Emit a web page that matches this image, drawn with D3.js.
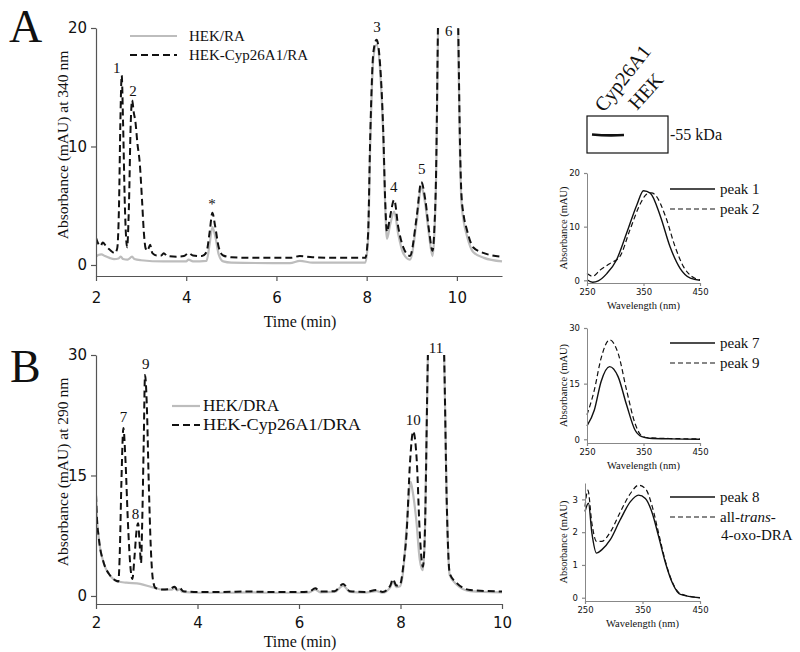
<!DOCTYPE html>
<html><head><meta charset="utf-8">
<script src="https://cdn.jsdelivr.net/npm/d3@7"></script>
<style>body{margin:0;background:#fff}text{fill:#111}</style>
</head><body>
<svg id="c" width="800" height="652" xmlns="http://www.w3.org/2000/svg"></svg>
<script>
// ---------- DATA ----------
// Panel A chromatogram (340 nm): [time (min), absorbance (mAU)]
const raHEK = [[2.00,0.7],[2.05,0.85],[2.12,0.9],[2.2,0.75],[2.3,0.6],[2.4,0.5],[2.5,0.55],[2.55,0.7],[2.6,0.5],[2.7,0.45],[2.8,0.7],[2.85,0.5],[3.0,0.4],[3.5,0.3],[4.0,0.3],[4.05,0.45],[4.15,0.3],[4.45,0.35],[4.52,1.8],[4.58,3.2],[4.65,2.3],[4.72,0.9],[4.82,0.3],[5.0,0.2],[6.3,0.15],[6.52,0.35],[6.8,0.2],[7.97,0.2],[8.03,2.0],[8.08,10.3],[8.15,17.5],[8.22,18.6],[8.30,16.3],[8.37,10.5],[8.41,5.0],[8.45,2.2],[8.52,3.4],[8.61,4.5],[8.70,2.6],[8.81,1.0],[8.96,0.45],[9.11,3.7],[9.21,6.6],[9.30,5.1],[9.39,2.3],[9.46,0.75],[9.5,2.5],[9.54,7.5],[9.58,19],[9.62,29],[9.70,36],[9.82,40],[9.95,36],[10.03,19],[10.07,9],[10.1,5.4],[10.15,3.7],[10.22,2.5],[10.36,1.1],[10.6,0.6],[11.0,0.3]];
const raCyp = [[2.00,2.3],[2.05,1.8],[2.10,1.6],[2.15,1.9],[2.22,1.6],[2.30,1.3],[2.42,1.0],[2.47,1.4],[2.51,5],[2.54,12],[2.57,16.0],[2.60,12],[2.64,5],[2.69,1.5],[2.73,5],[2.77,12],[2.80,13.9],[2.84,12.8],[2.87,12.2],[2.92,10.2],[2.97,8.6],[3.02,5.5],[3.06,2.8],[3.10,1.4],[3.14,1.2],[3.20,1.7],[3.25,1.0],[3.35,0.8],[3.45,0.8],[3.50,1.0],[3.58,0.75],[3.80,0.7],[3.95,0.75],[4.05,1.0],[4.15,0.8],[4.35,0.75],[4.45,1.1],[4.52,2.8],[4.58,4.4],[4.64,3.3],[4.72,1.5],[4.82,0.8],[5.0,0.65],[5.5,0.6],[6.3,0.6],[6.52,0.75],[6.8,0.65],[7.5,0.6],[7.97,0.6],[8.03,2.5],[8.08,11],[8.15,18],[8.22,19.0],[8.30,16.8],[8.37,11],[8.41,5.5],[8.45,2.8],[8.52,4.1],[8.61,5.5],[8.70,3.2],[8.81,1.5],[8.96,0.76],[9.11,4.1],[9.21,7.0],[9.30,5.5],[9.39,2.7],[9.46,1.2],[9.5,3],[9.54,8],[9.58,20],[9.62,30],[9.70,37],[9.82,41],[9.95,37],[10.03,20],[10.07,10],[10.1,6],[10.15,4.2],[10.22,3],[10.36,1.5],[10.6,1.0],[11.0,0.7]];
// Panel B chromatogram (290 nm)
const draHEK = [[2.00,12.6],[2.02,9.5],[2.05,7.5],[2.08,6.0],[2.13,4.6],[2.18,3.6],[2.25,2.8],[2.31,2.3],[2.38,1.95],[2.44,1.8],[2.6,1.65],[2.87,1.5],[3.1,1.1],[3.32,0.8],[3.5,0.8],[3.55,1.0],[3.6,0.7],[3.65,0.85],[3.7,0.5],[4.0,0.4],[4.5,0.4],[5.0,0.45],[5.5,0.4],[6.0,0.4],[6.2,0.45],[6.32,0.8],[6.42,0.45],[6.7,0.5],[6.87,1.3],[7.0,0.5],[7.3,0.4],[7.53,0.6],[7.65,0.4],[7.8,1.1],[7.85,1.8],[7.92,1.1],[7.99,1.2],[8.06,3.5],[8.12,8.5],[8.2,14.2],[8.24,13],[8.31,9.5],[8.38,4.5],[8.44,3.2],[8.48,7.5],[8.54,30],[8.6,40],[8.8,40],[8.86,30],[8.91,12],[8.97,2.6],[9.11,1.4],[9.37,0.6],[10.0,0.45]];
const draCyp = [[2.00,12.6],[2.02,9.5],[2.05,7.5],[2.08,6.0],[2.13,4.6],[2.18,3.6],[2.25,2.8],[2.31,2.3],[2.38,1.95],[2.44,1.8],[2.47,5.7],[2.50,14],[2.54,20.9],[2.58,17],[2.63,9],[2.68,3.5],[2.716,2.1],[2.76,5],[2.80,8.2],[2.83,9.05],[2.86,6.5],[2.887,4.1],[2.91,9],[2.94,19],[2.966,27.5],[3.0,24],[3.04,14],[3.08,6],[3.12,2.1],[3.17,1.0],[3.22,0.9],[3.3,0.8],[3.45,0.85],[3.55,1.15],[3.6,0.8],[3.65,1.0],[3.72,0.6],[4.0,0.5],[4.5,0.5],[5.0,0.55],[5.5,0.5],[6.0,0.5],[6.2,0.55],[6.32,0.95],[6.42,0.55],[6.7,0.6],[6.87,1.5],[7.0,0.6],[7.3,0.5],[7.53,0.75],[7.65,0.5],[7.8,1.3],[7.85,2.1],[7.92,1.3],[7.99,1.4],[8.06,4],[8.12,7.8],[8.19,16.9],[8.25,20.5],[8.32,16.9],[8.38,7.8],[8.44,3.65],[8.48,7.8],[8.54,30],[8.6,40],[8.8,40],[8.86,30],[8.91,12],[8.97,2.8],[9.11,1.6],[9.37,0.75],[10.0,0.55]];
// Peak labels
const peaksA = [["1",2.46,16.2],["2",2.82,14.3],["*",4.57,4.7],["3",8.23,19.7],["4",8.6,6.2],["5",9.22,7.7],["6",9.82,19.3]];
const peaksB = [["7",2.54,21.7],["8",2.78,9.6],["9",2.98,28.2],["10",8.25,21.3],["11",8.7,30.3]];
// UV spectra: [wavelength (nm), absorbance (mAU)]
const specPeak1 = [[250,0.1],[260,-0.35],[270,-0.1],[285,1.25],[302,3.75],[320,8.75],[338,14],[350,16.7],[362,16.25],[380,11.9],[397,6.25],[415,2.2],[433,0.4],[450,0]];
const specPeak2 = [[250,1.25],[260,0.75],[273,1.9],[290,3.1],[308,4.4],[326,9.4],[345,14.4],[356,16.1],[364,16.3],[371,15.9],[389,11.9],[406,6.25],[421,2.5],[435,0.75],[450,0.1]];
const specPeak7 = [[250,3.6],[263,7.9],[275,15.6],[290,19.6],[305,16.9],[320,9.3],[335,2.5],[347,0.7],[360,0.3],[400,0.1],[450,0]];
const specPeak9 = [[250,6.6],[263,13.3],[275,21.9],[290,26.8],[305,23.2],[320,13.3],[335,4.3],[347,0.9],[360,0.4],[400,0.2],[450,0.1]];
const specPeak8 = [[250,2.63],[256,2.88],[262,1.97],[270,1.36],[279,1.46],[294,1.77],[311,2.37],[329,2.93],[343,3.13],[355,3.03],[367,2.58],[378,1.87],[390,1.06],[402,0.45],[416,0.1],[450,0]];
const specOxoDRA = [[250,2.78],[255,3.28],[262,2.27],[270,1.72],[279,1.72],[294,2.0],[311,2.6],[329,3.18],[343,3.43],[355,3.33],[367,2.78],[378,1.97],[390,1.1],[402,0.47],[416,0.12],[450,0]];
// Tick values
const ticksTime = [2,4,6,8,10];
const ticksA_y = [0,10,20];
const ticksB_y = [0,15,30];
const ticksWL = [250,350,450];
const ticksS1 = [0,10,20], ticksS2 = [0,15,30], ticksS3 = [0,1,2,3];

// ---------- DRAWING ----------
const svg = d3.select("#c");
const SERIF = "'Liberation Serif','Times New Roman',serif";
const SANS = "'DejaVu Sans','Liberation Sans',sans-serif";
const GRAY = "#bdbdbd";

function styleAxis(g, fs, col){
  g.select(".domain").attr("stroke", col).attr("stroke-width",1.2);
  g.selectAll(".tick line").attr("stroke", col).attr("stroke-width",1.2);
  g.selectAll(".tick text").attr("font-family", SANS).attr("font-size", fs).attr("fill","#222");
}

function chrom(cfg){
  const x = d3.scaleLinear().domain(cfg.xd).range(cfg.xr);
  const y = d3.scaleLinear().domain(cfg.yd).range(cfg.yr);
  const id = "clip"+cfg.name;
  svg.append("clipPath").attr("id",id).append("rect")
    .attr("x",cfg.xr[0]).attr("y",cfg.yr[1]).attr("width",cfg.xr[1]-cfg.xr[0]+2).attr("height",cfg.yr[0]-cfg.yr[1]);
  const line = d3.line().x(d=>x(d[0])).y(d=>y(d[1])).curve(d3.curveMonotoneX);
  const gp = svg.append("g").attr("clip-path",`url(#${id})`);
  gp.append("path").datum(cfg.gray).attr("d",line).attr("fill","none").attr("stroke",GRAY).attr("stroke-width",2.2);
  gp.append("path").datum(cfg.dash).attr("d",line).attr("fill","none").attr("stroke","#111").attr("stroke-width",2).attr("stroke-dasharray","7,4");
  const gx = svg.append("g").attr("transform",`translate(0,${cfg.yr[0]})`)
    .call(d3.axisBottom(x).tickValues(ticksTime).tickSize(5).tickSizeOuter(0).tickPadding(cfg.xpad).tickFormat(d3.format("d")));
  styleAxis(gx, 15, "#555");
  const gy = svg.append("g").attr("transform",`translate(${cfg.xr[0]},0)`)
    .call(d3.axisLeft(y).tickValues(cfg.yt).tickSize(5).tickSizeOuter(0).tickPadding(4).tickFormat(d3.format("d")));
  styleAxis(gy, 15, "#555");
  // axis titles
  svg.append("text").attr("x",300).attr("y",cfg.xlabY).attr("text-anchor","middle")
    .attr("font-family",SERIF).attr("font-size",16).text("Time (min)");
  svg.append("text").attr("transform",`translate(68,${cfg.ylabY}) rotate(-90)`).attr("text-anchor","middle")
    .attr("font-family",SERIF).attr("font-size",15.5).text(cfg.ylab);
  // peak labels
  svg.append("g").selectAll("text").data(cfg.peaks).join("text")
    .attr("x",d=>x(d[1])).attr("y",d=>y(d[2])).attr("text-anchor","middle")
    .attr("font-family",SERIF).attr("font-size",15).text(d=>d[0]);
  // legend
  const L = cfg.legend;
  svg.append("line").attr("x1",L.x1).attr("x2",L.x2).attr("y1",L.y1).attr("y2",L.y1).attr("stroke",GRAY).attr("stroke-width",2.2);
  svg.append("line").attr("x1",L.x1).attr("x2",L.x2).attr("y1",L.y2).attr("y2",L.y2).attr("stroke","#111").attr("stroke-width",2).attr("stroke-dasharray","7,4");
  const t1 = svg.append("text").attr("x",L.tx).attr("y",L.y1+5).attr("font-family",SERIF).attr("font-size",L.fs).text(L.t1);
  const t2 = svg.append("text").attr("x",L.tx).attr("y",L.y2+5).attr("font-family",SERIF).attr("font-size",L.fs).text(L.t2);
  if (L.w1) { t1.attr("textLength",L.w1).attr("lengthAdjust","spacingAndGlyphs");
              t2.attr("textLength",L.w2).attr("lengthAdjust","spacingAndGlyphs"); }
  // panel letter
  svg.append("text").attr("x",cfg.letter[1]).attr("y",cfg.letter[2]).attr("font-family",SERIF).attr("font-size",46).text(cfg.letter[0]);
}

chrom({name:"A", xd:[2,11], xr:[96,502], yd:[-0.93,20], yr:[276,28], yt:ticksA_y, xpad:11,
  gray:raHEK, dash:raCyp, peaks:peaksA, ylab:"Absorbance (mAU) at 340 nm", ylabY:145, xlabY:327,
  legend:{x1:130,x2:177,y1:36,y2:55,tx:189,fs:15,t1:"HEK/RA",t2:"HEK-Cyp26A1/RA"},
  letter:["A",9,42]});
chrom({name:"B", xd:[2,10], xr:[96,502], yd:[-1,30], yr:[604,355], yt:ticksB_y, xpad:8,
  gray:draHEK, dash:draCyp, peaks:peaksB, ylab:"Absorbance (mAU) at 290 nm", ylabY:472, xlabY:647,
  legend:{x1:172,x2:200,y1:406,y2:425,tx:203,fs:16,t1:"HEK/DRA",t2:"HEK-Cyp26A1/DRA",w1:76,w2:158},
  letter:["B",10,382]});

function spectrum(cfg){
  const x = d3.scaleLinear().domain([250,450]).range(cfg.xr);
  const y = d3.scaleLinear().domain(cfg.yd).range(cfg.yr);
  const line = d3.line().x(d=>x(d[0])).y(d=>y(d[1])).curve(d3.curveMonotoneX);
  svg.append("path").datum(cfg.s1).attr("d",line).attr("fill","none").attr("stroke","#111").attr("stroke-width",1.4);
  svg.append("path").datum(cfg.s2).attr("d",line).attr("fill","none").attr("stroke","#111").attr("stroke-width",1.2).attr("stroke-dasharray","5,3");
  const gx = svg.append("g").attr("transform",`translate(0,${cfg.yr[0]})`)
    .call(d3.axisBottom(x).tickValues(ticksWL).tickSize(3).tickSizeOuter(0).tickPadding(3).tickFormat(d3.format("d")));
  styleAxis(gx, 8.5, "#888");
  const gy = svg.append("g").attr("transform",`translate(${cfg.xr[0]},0)`)
    .call(d3.axisLeft(y).tickValues(cfg.yt).tickSize(3).tickSizeOuter(0).tickPadding(4).tickFormat(d3.format("d")));
  styleAxis(gy, 8.5, "#888");
  gx.select(".domain").attr("stroke-width",1); gy.select(".domain").attr("stroke-width",1);
  svg.append("text").attr("x",(cfg.xr[0]+cfg.xr[1])/2).attr("y",cfg.yr[0]+26).attr("text-anchor","middle")
    .attr("font-family",SERIF).attr("font-size",10.5).text("Wavelength (nm)");
  svg.append("text").attr("transform",`translate(567,${(cfg.yr[0]+cfg.yr[1])/2}) rotate(-90)`).attr("text-anchor","middle")
    .attr("font-family",SERIF).attr("font-size",10.5).text("Absorbance (mAU)");
  // legend
  const ly = cfg.ly;
  svg.append("line").attr("x1",670).attr("x2",715).attr("y1",ly).attr("y2",ly).attr("stroke","#111").attr("stroke-width",1.3);
  svg.append("line").attr("x1",670).attr("x2",715).attr("y1",ly+20).attr("y2",ly+20).attr("stroke","#111").attr("stroke-width",1.2).attr("stroke-dasharray","5,3");
  svg.append("text").attr("x",720).attr("y",ly+5).attr("font-family",SERIF).attr("font-size",15).text(cfg.t1);
  const t2 = svg.append("text").attr("x",720).attr("y",ly+25).attr("font-family",SERIF).attr("font-size",15);
  cfg.t2(t2);
}

spectrum({xr:[587,700], yd:[-0.5,20], yr:[283,173], yt:ticksS1, s1:specPeak1, s2:specPeak2, ly:189,
  t1:"peak 1", t2:t=>t.text("peak 2")});
spectrum({xr:[587,700], yd:[-1,30], yr:[443,328], yt:ticksS2, s1:specPeak7, s2:specPeak9, ly:343,
  t1:"peak 7", t2:t=>t.text("peak 9")});
spectrum({xr:[585,700], yd:[-0.1,3.5], yr:[601,483], yt:ticksS3, s1:specPeak8, s2:specOxoDRA, ly:497,
  t1:"peak 8", t2:t=>{t.append("tspan").text("all-"); t.append("tspan").attr("font-style","italic").text("trans"); t.append("tspan").text("-");}});
svg.append("text").attr("x",721).attr("y",540).attr("font-family",SERIF).attr("font-size",15).text("4-oxo-DRA");

// Western blot inset
svg.append("rect").attr("x",587).attr("y",116).attr("width",81).attr("height",37).attr("fill","none").attr("stroke","#111").attr("stroke-width",1.2);
svg.append("path").attr("d","M592,134.5 Q608,136 624,135").attr("fill","none").attr("stroke","#111").attr("stroke-width",2.6);
svg.append("text").attr("x",670).attr("y",140).attr("font-family",SERIF).attr("font-size",16).text("-55 kDa");
svg.append("text").attr("transform","translate(604,113) rotate(-52)").attr("font-family",SERIF).attr("font-size",20).text("Cyp26A1");
svg.append("text").attr("transform","translate(637,111) rotate(-48)").attr("font-family",SERIF).attr("font-size",20).text("HEK");
</script>
</body></html>
